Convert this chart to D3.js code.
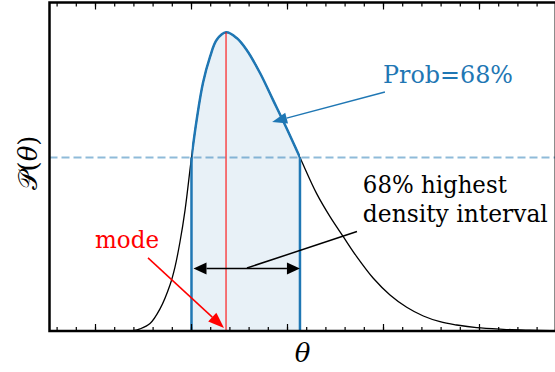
<!DOCTYPE html>
<html>
<head>
<meta charset="utf-8">
<script src="https://cdn.jsdelivr.net/npm/d3@7"></script>
<style>
  body { margin: 0; background: #fff; }
</style>
</head>
<body>
<div class="vis"></div>
<script>
// density curve (theta, P)
const curveTheta = [1.396, 1.469, 1.573, 1.677, 1.781, 1.833, 1.885, 1.938, 2.005, 2.059, 2.125, 2.198, 2.268, 2.365, 2.476, 2.580, 2.719, 2.854, 2.997, 3.135, 3.309, 3.448, 3.586, 3.726, 3.899, 4.073, 4.247, 4.420, 4.594, 4.768, 4.976, 5.253, 5.53, 5.74];
const curveDensity = [0.001, 0.007, 0.025, 0.074, 0.154, 0.214, 0.298, 0.405, 0.581, 0.707, 0.831, 0.918, 0.975, 1.0, 0.981, 0.941, 0.864, 0.774, 0.678, 0.581, 0.460, 0.383, 0.316, 0.249, 0.1765, 0.1206, 0.0794, 0.0502, 0.0311, 0.0201, 0.011, 0.0057, 0.0027, 0.001];

const hdiBounds = [2.005, 3.135];
const hdiLevel = 0.581;
const modeTheta = 2.365;
const modeDensity = 1.0;

const majorTicks = [1, 2, 3, 4, 5];
const minorTicks = d3.range(0.6, 5.81, 0.2).map((d) => +d.toFixed(1));

const labels = {
  prob: "Prob=68%",
  hdi: ["68% highest", "density interval"],
  mode: "mode",
};

const W = 555, H = 372;
const blue = "#1f77b4";
const serif = "DejaVu Serif";

const svg = d3.select(".vis").append("svg").attr("width", W).attr("height", H);

const x = d3.scaleLinear().domain([0.526, 5.8]).range([49.5, 555.8]);
const y = d3.scaleLinear().domain([0, 1.1]).range([331, 2.5]);

const pts = curveTheta.map((t, i) => ({ t: t, p: curveDensity[i] }));

const line = d3.line().x((d) => x(d.t)).y((d) => y(d.p)).curve(d3.curveCatmullRom.alpha(0.5));
const area = d3.area().x((d) => x(d.t)).y0(y(0)).y1((d) => y(d.p)).curve(d3.curveCatmullRom.alpha(0.5));

svg.append("defs").append("clipPath").attr("id", "hdi")
  .append("rect")
  .attr("x", x(hdiBounds[0]))
  .attr("y", 0)
  .attr("width", x(hdiBounds[1]) - x(hdiBounds[0]))
  .attr("height", H);

// shaded interval
svg.append("path").datum(pts).attr("d", area)
  .attr("clip-path", "url(#hdi)")
  .attr("fill", blue).attr("fill-opacity", 0.1);

// full density
svg.append("path").datum(pts).attr("d", line)
  .attr("fill", "none").attr("stroke", "#000").attr("stroke-width", 1.3);

// level line
svg.append("line")
  .attr("x1", x.range()[0]).attr("x2", x.range()[1])
  .attr("y1", y(hdiLevel)).attr("y2", y(hdiLevel))
  .attr("stroke", blue).attr("stroke-opacity", 0.5)
  .attr("stroke-width", 2).attr("stroke-dasharray", "8,4");

// interval part of the curve
svg.append("path").datum(pts).attr("d", line)
  .attr("clip-path", "url(#hdi)")
  .attr("fill", "none").attr("stroke", blue).attr("stroke-width", 2.5);

svg.append("g").selectAll("line").data(hdiBounds).join("line")
  .attr("x1", (d) => x(d)).attr("x2", (d) => x(d))
  .attr("y1", y(0)).attr("y2", y(hdiLevel))
  .attr("stroke", blue).attr("stroke-width", 2.5);

// mode line
svg.append("line")
  .attr("x1", x(modeTheta)).attr("x2", x(modeTheta))
  .attr("y1", y(0)).attr("y2", y(modeDensity))
  .attr("stroke", "red").attr("stroke-opacity", 0.7).attr("stroke-width", 1.5);

// arrows
const arrow = (x1, y1, x2, y2, color, hl, hw, both) => {
  const g = svg.append("g");
  const ang = Math.atan2(y2 - y1, x2 - x1);
  const head = (tx, ty, a) => {
    const bx = tx - hl * Math.cos(a), by = ty - hl * Math.sin(a);
    const nx = -Math.sin(a) * hw / 2, ny = Math.cos(a) * hw / 2;
    g.append("path")
      .attr("d", `M${tx},${ty}L${bx + nx},${by + ny}L${bx - nx},${by - ny}Z`)
      .attr("fill", color);
  };
  const sx = both ? x1 + hl * Math.cos(ang) : x1, sy = both ? y1 + hl * Math.sin(ang) : y1;
  g.append("line")
    .attr("x1", sx).attr("y1", sy)
    .attr("x2", x2 - hl * Math.cos(ang)).attr("y2", y2 - hl * Math.sin(ang))
    .attr("stroke", color).attr("stroke-width", 1.5);
  head(x2, y2, ang);
  if (both) head(x1, y1, ang + Math.PI);
};

arrow(x(4.02), y(0.80), x(2.845), y(0.70), blue, 15, 11, false);
arrow(x(1.552), y(0.245), x(2.344), y(0.010), "red", 16, 12, false);
arrow(x(2.026), y(0.209), x(3.135), y(0.209), "#000", 13, 12, true);

svg.append("line")
  .attr("x1", x(3.729)).attr("y1", y(0.333))
  .attr("x2", x(2.583)).attr("y2", y(0.211))
  .attr("stroke", "#000").attr("stroke-width", 1.5);

// texts
const label = (sel) => sel
  .attr("font-family", serif).attr("font-size", 24)
  .attr("lengthAdjust", "spacingAndGlyphs");

svg.append("text").attr("x", x(4.0)).attr("y", y(0.83))
  .call(label).attr("fill", blue).attr("textLength", 130)
  .text(labels.prob);

svg.append("g").selectAll("text").data(labels.hdi).join("text")
  .attr("x", x(3.79))
  .attr("y", (d, i) => y([0.462, 0.365][i]))
  .call(label).attr("fill", "#000")
  .attr("textLength", (d, i) => [144, 185][i])
  .text((d) => d);

svg.append("text").attr("x", x(1.0)).attr("y", y(0.278))
  .call(label).attr("fill", "red").attr("textLength", 64)
  .text(labels.mode);

// axes frame and inward ticks
const ticks = (axis, values, size, ty) =>
  svg.append("g").attr("transform", `translate(0,${ty})`)
    .call(axis(x).tickValues(values).tickSize(-size).tickFormat(""))
    .call((g) => g.select(".domain").remove())
    .call((g) => g.selectAll("line").attr("stroke-width", 1.2));

ticks(d3.axisBottom, minorTicks, 4, y(0));
ticks(d3.axisBottom, majorTicks, 7, y(0));
ticks(d3.axisTop, minorTicks, 4, y.range()[1]);
ticks(d3.axisTop, majorTicks, 7, y.range()[1]);

svg.append("rect")
  .attr("x", x.range()[0]).attr("y", y.range()[1])
  .attr("width", x.range()[1] - x.range()[0])
  .attr("height", y.range()[0] - y.range()[1])
  .attr("fill", "none").attr("stroke", "#000").attr("stroke-width", 2.5);

svg.append("text")
  .attr("x", (x.range()[0] + x.range()[1]) / 2).attr("y", 362)
  .attr("text-anchor", "middle").attr("font-family", serif)
  .attr("font-size", 26).attr("font-style", "italic")
  .text("θ");

const ylab = svg.append("text")
  .attr("transform", "translate(37,163) rotate(-90)")
  .attr("text-anchor", "middle").attr("font-family", serif).attr("font-size", 26);
ylab.append("tspan").text("𝒫(");
ylab.append("tspan").attr("font-style", "italic").text("θ");
ylab.append("tspan").text(")");
</script>
</body>
</html>
